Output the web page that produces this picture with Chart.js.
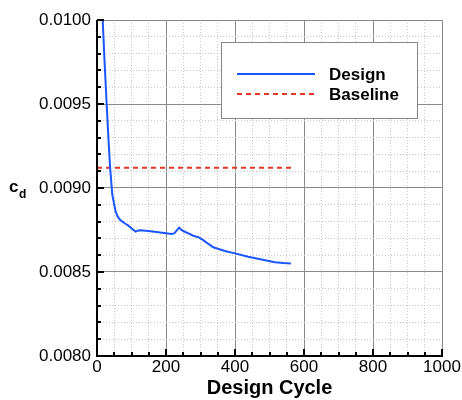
<!DOCTYPE html>
<html>
<head>
<meta charset="utf-8">
<script src="https://cdn.jsdelivr.net/npm/chart.js@4"></script>
<style>
  html, body { margin:0; padding:0; background:#fff; }
  #wrap { width:462px; height:400px; }
</style>
</head>
<body>
<div id="wrap"><canvas id="c" width="462" height="400"></canvas></div>
<script>
// Data
const designCycle = [12, 16.5, 22, 28, 33, 38, 44.5, 54, 60, 67, 80, 91, 100, 106, 112, 118, 125, 149, 178, 200, 216, 224, 230, 238, 244, 250, 265, 279, 295, 308, 323, 337, 355, 371, 400, 438, 477, 516, 540, 562]
const designCd    = [0.01025, 0.01000, 0.00975, 0.00950, 0.00930, 0.00912, 0.008958, 0.008859, 0.00883, 0.00881, 0.00879, 0.008776, 0.00876, 0.00875, 0.00874, 0.008746, 0.008748, 0.008744, 0.008736, 0.00873, 0.008726, 0.00873, 0.008745, 0.008764, 0.008752, 0.008744, 0.00873, 0.008716, 0.008706, 0.00869, 0.008667, 0.008647, 0.008635, 0.008625, 0.008611, 0.008591, 0.008575, 0.008558, 0.008553, 0.00855]
const baselineCycle = [0, 564]
const baselineCd    = [0.00912, 0.00912]
const xTicks = [0, 200, 400, 600, 800, 1000]
const yTicks = ['0.0080', '0.0085', '0.0090', '0.0095', '0.0100']
const seriesNames = ['Design', 'Baseline']

const FONT = '"Liberation Sans", Arial, Helvetica, sans-serif'
const isMajorX = v => Math.abs(v % 200) < 1e-6
const isMajorY = v => Math.abs(Math.round(v * 1e5) % 50) < 1e-6

// inward axis ticks + legend + c_d label
const decor = {
  id: 'decor',
  afterDraw(chart){
    const { ctx, chartArea: a, scales } = chart
    const xs = scales.x, ys = scales.y
    const L = Math.round(a.left), B = Math.round(a.bottom), R = Math.round(a.right), T = Math.round(a.top)
    ctx.save()
    ctx.setLineDash([])
    ctx.fillStyle = '#000'
    // axes lines
    ctx.fillRect(L - 1, T, 2, B - T + 1)
    ctx.fillRect(L - 1, B - 1, R - L + 2, 2)
    for (let v = 0; v <= 1000; v += 50){
      const px = Math.round(xs.getPixelForValue(v))
      const len = isMajorX(v) ? 7 : 4
      ctx.fillRect(px - 1, B - len, 2, len)
    }
    for (let i = 0; i <= 20; i++){
      const py = Math.round(ys.getPixelForValue(0.008 + i * 0.0001))
      const len = i % 5 === 0 ? 7 : 4
      ctx.fillRect(L, py - 1, len, 2)
    }

    // legend box
    const lx = 221, ly = 42, lw = 196, lh = 76
    ctx.fillStyle = '#fff'
    ctx.fillRect(lx, ly, lw, lh)
    ctx.strokeStyle = '#888'
    ctx.lineWidth = 1
    ctx.strokeRect(lx + 0.5, ly + 0.5, lw, lh)
    const ds = chart.data.datasets
    const rows = [74, 94]
    rows.forEach((ry, i) => {
      ctx.strokeStyle = ds[i].borderColor
      ctx.lineWidth = ds[i].borderWidth
      ctx.setLineDash(ds[i].borderDash || [])
      ctx.beginPath(); ctx.moveTo(237, ry); ctx.lineTo(315, ry); ctx.stroke()
      ctx.setLineDash([])
      ctx.fillStyle = '#000'
      ctx.font = 'bold 17px ' + FONT
      ctx.textBaseline = 'middle'
      ctx.textAlign = 'left'
      ctx.fillText(ds[i].label, 329, ry + 1)
    })

    // y title c_d
    ctx.fillStyle = '#000'
    ctx.font = 'bold 17px ' + FONT
    ctx.textBaseline = 'alphabetic'
    ctx.textAlign = 'left'
    ctx.fillText('c', 9, 192)
    ctx.font = 'bold 12px ' + FONT
    ctx.fillText('d', 19, 198)
    ctx.restore()
  }
}

new Chart(document.getElementById('c'), {
  type: 'scatter',
  data: {
    datasets: [
      {
        label: seriesNames[0],
        data: designCycle.map((x, i) => ({ x, y: designCd[i] })),
        showLine: true,
        borderColor: '#1a55ff',
        borderWidth: 2,
        pointRadius: 0,
        tension: 0
      },
      {
        label: seriesNames[1],
        data: baselineCycle.map((x, i) => ({ x, y: baselineCd[i] })),
        showLine: true,
        borderColor: '#e03a26',
        borderWidth: 2,
        borderDash: [5, 4],
        pointRadius: 0
      }
    ]
  },
  options: {
    responsive: false,
    animation: false,
    layout: { padding: { top: 20, right: 20, left: 0, bottom: 0 } },
    plugins: { legend: { display: false }, tooltip: { enabled: false } },
    scales: {
      x: {
        type: 'linear', min: 0, max: 1000,
        afterBuildTicks: s => { s.ticks = []; for (let v = 0; v <= 1000; v += 50) s.ticks.push({ value: v }) },
        afterFit: s => { s.height = 44 },
        ticks: {
          autoSkip: false, maxRotation: 0, padding: 1,
          color: '#000', font: { family: FONT, size: 17 },
          callback: v => xTicks.includes(v) ? String(v) : ''
        },
        grid: {
          drawTicks: false,
          color: c => isMajorX(c.tick.value) ? '#8a8a8a' : '#c8c8c8',
          lineWidth: 1
        },
        border: { display: false, dash: c => (c.tick && isMajorX(c.tick.value)) ? [] : [1, 2] },
        title: { display: true, text: 'Design Cycle', color: '#000', font: { family: FONT, size: 20, weight: 'bold' }, padding: 0 }
      },
      y: {
        type: 'linear', min: 0.008, max: 0.010,
        afterBuildTicks: s => { s.ticks = []; for (let i = 0; i <= 20; i++) s.ticks.push({ value: 0.008 + i * 0.0001 }) },
        afterFit: s => { s.width = 97 },
        ticks: {
          autoSkip: false, padding: 6,
          color: '#000', font: { family: FONT, size: 17 },
          callback: v => { const l = v.toFixed(4); return (isMajorY(v) && yTicks.includes(l)) ? l : '' }
        },
        grid: {
          drawTicks: false,
          color: c => isMajorY(c.tick.value) ? '#8a8a8a' : '#c8c8c8',
          lineWidth: 1
        },
        border: { display: false, dash: c => (c.tick && isMajorY(c.tick.value)) ? [] : [1, 2] }
      }
    }
  },
  plugins: [decor]
})
</script>
</body>
</html>
